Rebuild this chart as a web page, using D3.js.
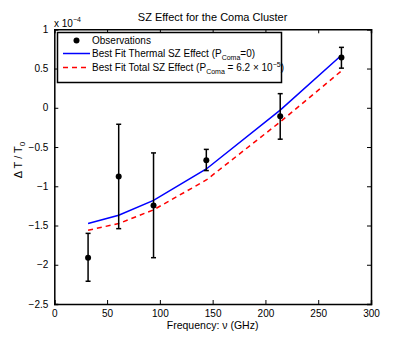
<!DOCTYPE html>
<html>
<head>
<meta charset="utf-8">
<script src="https://cdn.jsdelivr.net/npm/d3@7"></script>
<style>
  body { margin: 0; background: #fff; }
  text { font-family: "Liberation Sans", Arial, sans-serif; }
</style>
</head>
<body>
<svg id="chart" width="409" height="338" viewBox="0 0 409 338"></svg>
<script>
// observations (units of 1e-4)
const freq = [32, 61, 94, 144, 214, 272]
const obs = [-1.91, -0.875, -1.245, -0.67, -0.107, 0.64]
const obsHi = [-1.60, -0.21, -0.575, -0.53, 0.18, 0.77]
const obsLo = [-2.21, -1.54, -1.91, -0.80, -0.40, 0.505]
// fits
const thermalFit = [-1.474, -1.37, -1.18, -0.78, -0.03, 0.67]
const totalFit = [-1.56, -1.475, -1.30, -0.92, -0.18, 0.47]
const xTicks = [0, 50, 100, 150, 200, 250, 300]
const yTicks = [1, 0.5, 0, -0.5, -1, -1.5, -2, -2.5]

const svg = d3.select("#chart")
const x = d3.scaleLinear().domain([0, 300]).range([54.3, 371])
const y = d3.scaleLinear().domain([-2.5, 1]).range([304, 29.3])
const fmt = v => String(v).replace("-", "\u2212")

// inward ticks on all four sides
const axB = svg.append("g").attr("transform", `translate(0,${y(-2.5)})`)
    .call(d3.axisBottom(x).tickValues(xTicks).tickSize(-4).tickPadding(6).tickFormat(fmt))
const axT = svg.append("g").attr("transform", `translate(0,${y(1)})`)
    .call(d3.axisTop(x).tickValues(xTicks).tickSize(-4).tickFormat(""))
const axL = svg.append("g").attr("transform", `translate(${x(0)},0)`)
    .call(d3.axisLeft(y).tickValues(yTicks).tickSize(-4).tickPadding(6).tickFormat(fmt))
const axR = svg.append("g").attr("transform", `translate(${x(300)},0)`)
    .call(d3.axisRight(y).tickValues(yTicks).tickSize(-4).tickFormat(""))
for (const a of [axB, axT, axL, axR]) {
    a.select(".domain").attr("stroke", "#000").attr("stroke-width", 1.5)
    a.selectAll(".tick line").attr("stroke", "#000").attr("stroke-width", 1)
    a.selectAll(".tick text").attr("fill", "#000").style("font-size", "10px")
}

const line = d3.line().x((d, i) => x(freq[i])).y(d => y(d))

svg.append("path").datum(thermalFit).attr("d", line)
    .attr("fill", "none").attr("stroke", "#0000ff").attr("stroke-width", 1.5)
svg.append("path").datum(totalFit).attr("d", line)
    .attr("fill", "none").attr("stroke", "#ff0000").attr("stroke-width", 1.5)
    .attr("stroke-dasharray", "5,4")

// error bars
const eb = svg.append("g").selectAll("g").data(freq).enter().append("g")
eb.append("line").attr("x1", d => x(d)).attr("x2", d => x(d))
    .attr("y1", (d, i) => y(obsHi[i])).attr("y2", (d, i) => y(obsLo[i]))
    .attr("stroke", "#000").attr("stroke-width", 1.5)
eb.append("line").attr("x1", d => x(d) - 2.5).attr("x2", d => x(d) + 2.5)
    .attr("y1", (d, i) => y(obsHi[i])).attr("y2", (d, i) => y(obsHi[i]))
    .attr("stroke", "#000").attr("stroke-width", 1.5)
eb.append("line").attr("x1", d => x(d) - 2.5).attr("x2", d => x(d) + 2.5)
    .attr("y1", (d, i) => y(obsLo[i])).attr("y2", (d, i) => y(obsLo[i]))
    .attr("stroke", "#000").attr("stroke-width", 1.5)
eb.append("circle").attr("cx", d => x(d)).attr("cy", (d, i) => y(obs[i]))
    .attr("r", 3).attr("fill", "#000")

// legend
const lg = svg.append("g")
lg.append("rect").attr("x", 57.5).attr("y", 32.5).attr("width", 224).attr("height", 50)
    .attr("fill", "#fff").attr("stroke", "#000").attr("stroke-width", 1.5)
lg.append("circle").attr("cx", 76.5).attr("cy", 40.5).attr("r", 3).attr("fill", "#000")
lg.append("line").attr("x1", 63).attr("x2", 90).attr("y1", 53.5).attr("y2", 53.5)
    .attr("stroke", "#0000ff").attr("stroke-width", 1.5)
lg.append("line").attr("x1", 63).attr("x2", 90).attr("y1", 67.5).attr("y2", 67.5)
    .attr("stroke", "#ff0000").attr("stroke-width", 1.5).attr("stroke-dasharray", "5,4")
lg.append("text").attr("x", 92).attr("y", 44).style("font-size", "10px").text("Observations")
const t1 = lg.append("text").attr("x", 92).attr("y", 57).style("font-size", "10px")
t1.append("tspan").text("Best Fit Thermal SZ Effect (P")
t1.append("tspan").attr("dy", 2.5).style("font-size", "7px").text("Coma")
t1.append("tspan").attr("dy", -2.5).text("=0)")
const t2 = lg.append("text").attr("x", 92).attr("y", 71).style("font-size", "10px")
t2.append("tspan").text("Best Fit Total SZ Effect (P")
t2.append("tspan").attr("dy", 2.5).style("font-size", "7px").text("Coma")
t2.append("tspan").attr("dy", -2.5).text(" = 6.2 \u00d7 10")
t2.append("tspan").attr("dy", -4).style("font-size", "7px").text("\u22125")
t2.append("tspan").attr("dy", 4).text(")")

// titles
svg.append("text").attr("x", 212.6).attr("y", 21).attr("text-anchor", "middle")
    .style("font-size", "11px").text("SZ Effect for the Coma Cluster")
const ex = svg.append("text").attr("x", 54).attr("y", 27).style("font-size", "10px")
ex.append("tspan").text("x 10")
ex.append("tspan").attr("dy", -5).style("font-size", "7px").text("\u22124")
svg.append("text").attr("x", 212.6).attr("y", 329).attr("text-anchor", "middle")
    .style("font-size", "10.5px").text("Frequency: \u03bd (GHz)")
const yl = svg.append("text").attr("transform", "translate(22,160) rotate(-90)")
    .attr("text-anchor", "middle").style("font-size", "11px")
yl.append("tspan").text("\u0394 T / T")
yl.append("tspan").attr("dy", 3).style("font-size", "8px").text("0")
</script>
</body>
</html>
